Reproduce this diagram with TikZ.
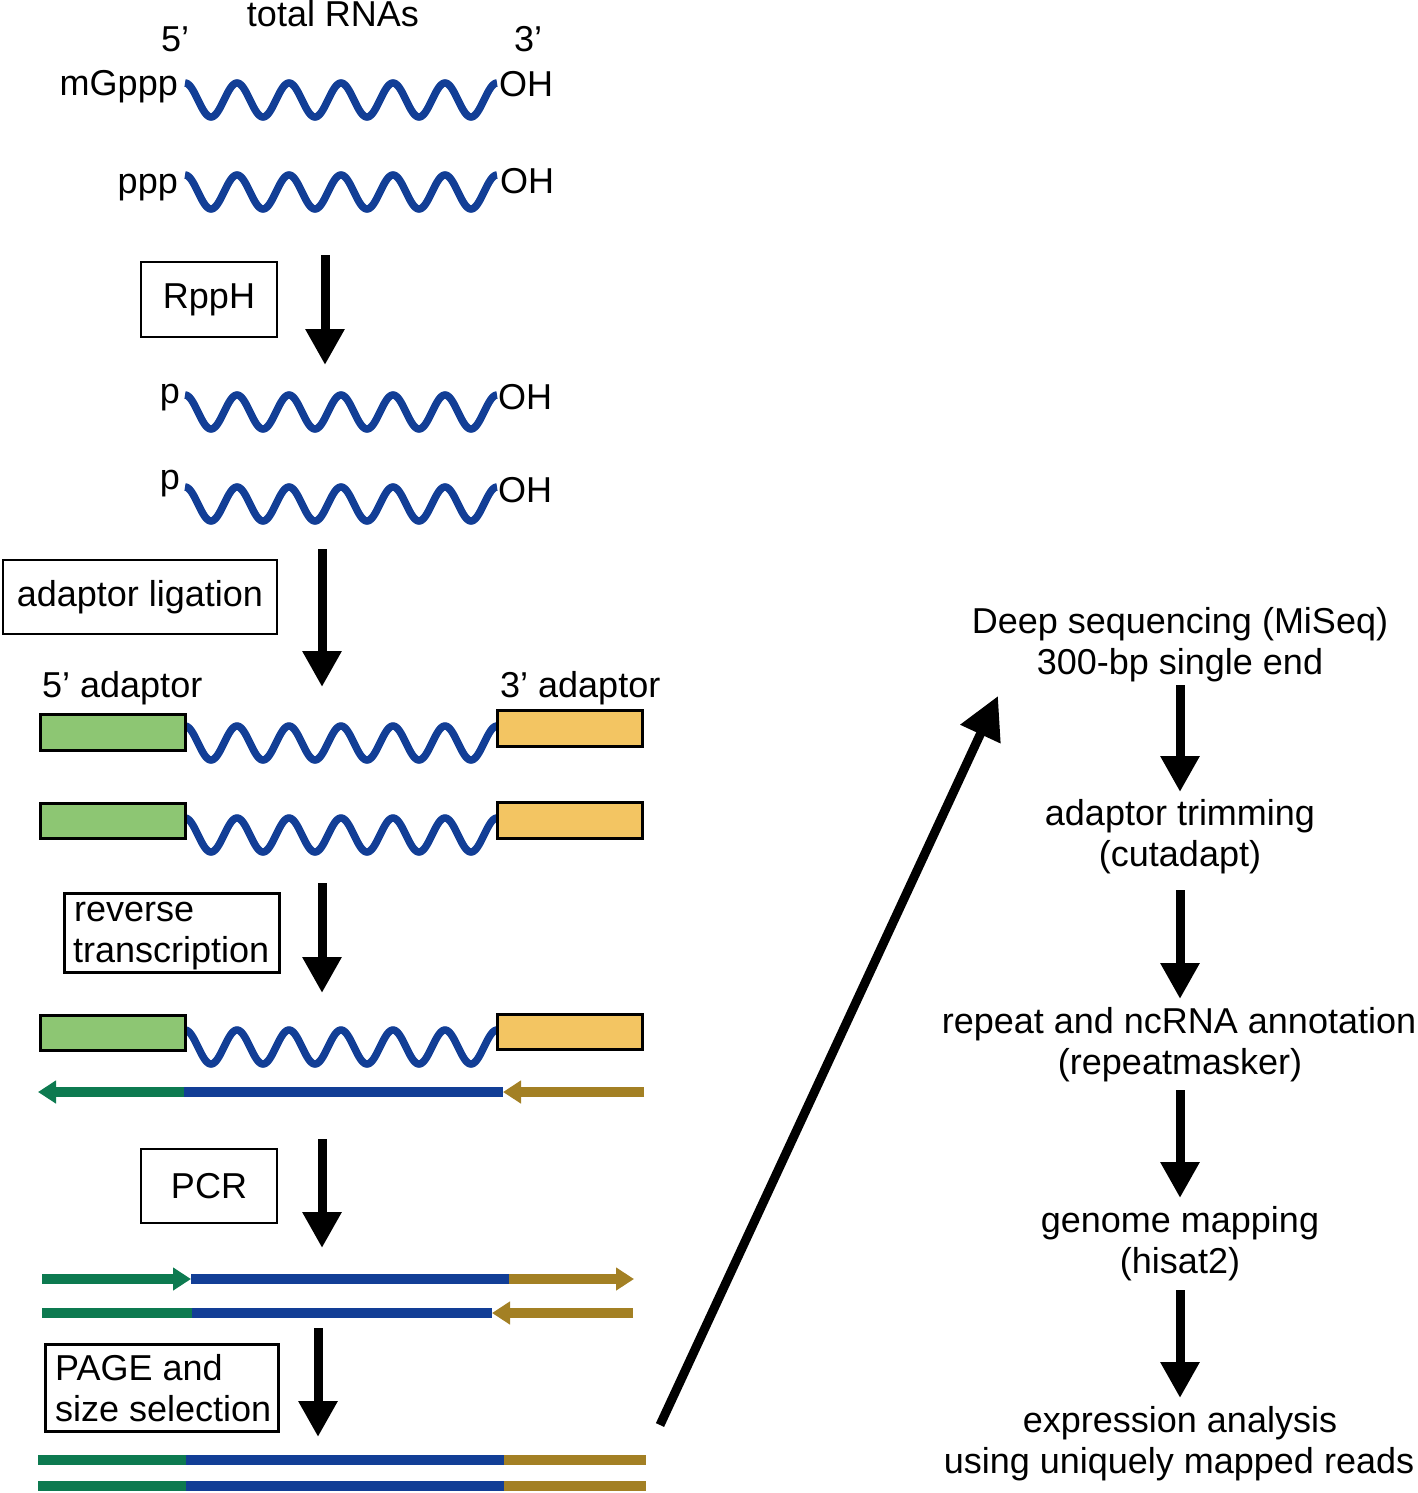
\documentclass[tikz,border=0pt]{standalone}
\usepackage{fontspec}
\setmainfont{Liberation Sans}
\usetikzlibrary{arrows.meta}
\definecolor{rnablue}{RGB}{18,62,150}
\definecolor{adgreen}{RGB}{13,122,80}
\definecolor{adgold}{RGB}{163,128,36}
\definecolor{boxgreen}{RGB}{141,198,115}
\definecolor{boxyellow}{RGB}{243,197,98}
\newcommand\rnawave[1]{\draw[wave] plot[domain=0:312,samples=241,smooth] ({185+\x},{#1-17*cos(\x*6.923077)});}
\begin{document}
\begin{tikzpicture}[x=1pt,y=-1pt,
  txt/.style={inner sep=0pt,font=\fontsize{36}{41}\selectfont},
  lbox/.style={draw=black,line width=2.5pt,fill=white,inner sep=0pt},
  gbox/.style={draw=black,line width=3pt,fill=boxgreen},
  ybox/.style={draw=black,line width=3pt,fill=boxyellow},
  wave/.style={draw=rnablue,line width=7.5pt},
  bigarrow/.style={line width=9pt,-{Triangle[length=36pt,width=37pt]}},
  diagarrow/.style={line width=9pt,-{Triangle[length=42pt,width=42pt]}},
  strand/.style={line width=9.5pt},
  strandtip/.style={line width=9.5pt,-{Triangle[length=18pt,width=22pt]}}
]
\useasboundingbox (0,0) rectangle (1418,1493);

% ---------- top title ----------
\node[txt,anchor=base] (title) at (333,27) {total RNAs};
\node[txt,anchor=base west] (five) at (161,52) {5’};
\node[txt,anchor=base west] (three) at (514,52) {3’};

% ---------- waves with ends ----------
\rnawave{100}
\node[txt,anchor=base east] (mg) at (178,96) {mGppp};
\node[txt,anchor=base west] (oh1) at (499,97) {OH};
\rnawave{192}
\node[txt,anchor=base east] (ppp) at (178,193) {ppp};
\node[txt,anchor=base west] (oh2) at (500,193) {OH};

% RppH
\node[lbox,minimum width=136pt,minimum height=75pt] (rpph) at (209,299.5) {};
\node[txt] (rppht) at (rpph.center) {RppH};
\coordinate (a1s) at (325,255); \coordinate (a1e) at (325,365);
\draw[bigarrow] (a1s) -- (a1e);

\rnawave{412}
\node[txt,anchor=base east] (p1) at (180,403) {p};
\node[txt,anchor=base west] (oh3) at (498,409) {OH};
\rnawave{504}
\node[txt,anchor=base east] (p2) at (180,489) {p};
\node[txt,anchor=base west] (oh4) at (498,502) {OH};

% adaptor ligation
\node[lbox,minimum width=274pt,minimum height=74pt] (lig) at (140,597) {};
\node[txt] (ligt) at (lig.center) {adaptor ligation};
\coordinate (a2s) at (322,549); \coordinate (a2e) at (322,687);
\draw[bigarrow] (a2s) -- (a2e);

\node[txt,anchor=base west] (ad5) at (42,697) {5’ adaptor};
\node[txt,anchor=base west] (ad3) at (500,697) {3’ adaptor};

% ligated RNAs
\rnawave{743}
\draw[gbox] (40,714) rectangle (185,750);
\draw[ybox] (497,710) rectangle (642,746);
\rnawave{835}
\draw[gbox] (40,803) rectangle (185,838);
\draw[ybox] (497,802) rectangle (642,838);

% reverse transcription
\node[lbox,minimum width=215pt,minimum height=79pt,anchor=north west] (rt) at (63,892) {};
\node[txt,anchor=base west] (rt1) at (74,921) {reverse};
\node[txt,anchor=base west] (rt2) at (73,962) {transcription};
\coordinate (a3s) at (322,883); \coordinate (a3e) at (322,993);
\draw[bigarrow] (a3s) -- (a3e);

\rnawave{1047}
\draw[gbox] (40,1015) rectangle (185,1050);
\draw[ybox] (497,1014) rectangle (642,1049);

% cDNA line
\coordinate (c1) at (38,1092); \coordinate (c2) at (184,1092);
\coordinate (c3) at (503,1092); \coordinate (c4) at (644,1092);
\draw[strand,rnablue] (c2) -- (c3);
\draw[strandtip,adgreen] (c2) -- (c1);
\draw[strandtip,adgold] (c4) -- (c3);

% PCR
\node[lbox,minimum width=136pt,minimum height=74pt] (pcr) at (209,1186) {};
\node[txt] (pcrt) at (pcr.center) {PCR};
\coordinate (a4s) at (322,1139); \coordinate (a4e) at (322,1248);
\draw[bigarrow] (a4s) -- (a4e);

\coordinate (p11) at (42,1279); \coordinate (p12) at (191,1279);
\coordinate (p13) at (509,1279); \coordinate (p14) at (634,1279);
\draw[strand,rnablue] (p12) -- (p13);
\draw[strandtip,adgreen] (p11) -- (p12);
\draw[strandtip,adgold] (p13) -- (p14);

\coordinate (p21) at (42,1313); \coordinate (p22) at (192,1313);
\coordinate (p23) at (492,1313); \coordinate (p24) at (633,1313);
\draw[strand,rnablue] (p22) -- (p23);
\draw[strand,adgreen] (p21) -- (p22);
\draw[strandtip,adgold] (p24) -- (p23);

% PAGE
\node[lbox,minimum width=233pt,minimum height=87pt,anchor=north west] (page) at (44,1343) {};
\node[txt,anchor=base west] (page1) at (55,1380) {PAGE and};
\node[txt,anchor=base west] (page2) at (55,1421) {size selection};
\coordinate (a5s) at (318,1328); \coordinate (a5e) at (318,1437);
\draw[bigarrow] (a5s) -- (a5e);

\foreach \yy/\nm in {1460/f1,1486/f2}{
  \coordinate (\nm a) at (38,\yy); \coordinate (\nm b) at (186,\yy);
  \coordinate (\nm c) at (504,\yy); \coordinate (\nm d) at (646,\yy);
  \draw[strand,adgreen] (\nm a) -- (\nm b);
  \draw[strand,rnablue] (\nm b) -- (\nm c);
  \draw[strand,adgold] (\nm c) -- (\nm d);
}

% diagonal
\coordinate (ds) at (660,1425); \coordinate (de) at (998,696);
\draw[diagarrow] (ds) -- (de);

% ---------- right column ----------
\node[txt,anchor=base] (deep1) at (1180,633) {Deep sequencing (MiSeq)};
\node[txt,anchor=base] (deep2) at (1180,674) {300-bp single end};
\coordinate (r1s) at (1180,685); \coordinate (r1e) at (1180,792);
\draw[bigarrow] (r1s) -- (r1e);
\node[txt,anchor=base] (trim1) at (1180,825) {adaptor trimming};
\node[txt,anchor=base] (trim2) at (1180,866) {(cutadapt)};
\coordinate (r2s) at (1180,890); \coordinate (r2e) at (1180,999);
\draw[bigarrow] (r2s) -- (r2e);
\node[txt,anchor=base] (rep1) at (1179,1033) {repeat and ncRNA annotation};
\node[txt,anchor=base] (rep2) at (1180,1074) {(repeatmasker)};
\coordinate (r3s) at (1180,1090); \coordinate (r3e) at (1180,1198);
\draw[bigarrow] (r3s) -- (r3e);
\node[txt,anchor=base] (gen1) at (1180,1232) {genome mapping};
\node[txt,anchor=base] (gen2) at (1180,1273) {(hisat2)};
\coordinate (r4s) at (1180,1290); \coordinate (r4e) at (1180,1398);
\draw[bigarrow] (r4s) -- (r4e);
\node[txt,anchor=base] (exp1) at (1180,1432) {expression analysis};
\node[txt,anchor=base] (exp2) at (1179,1473) {using uniquely mapped reads};
\end{tikzpicture}
\end{document}
